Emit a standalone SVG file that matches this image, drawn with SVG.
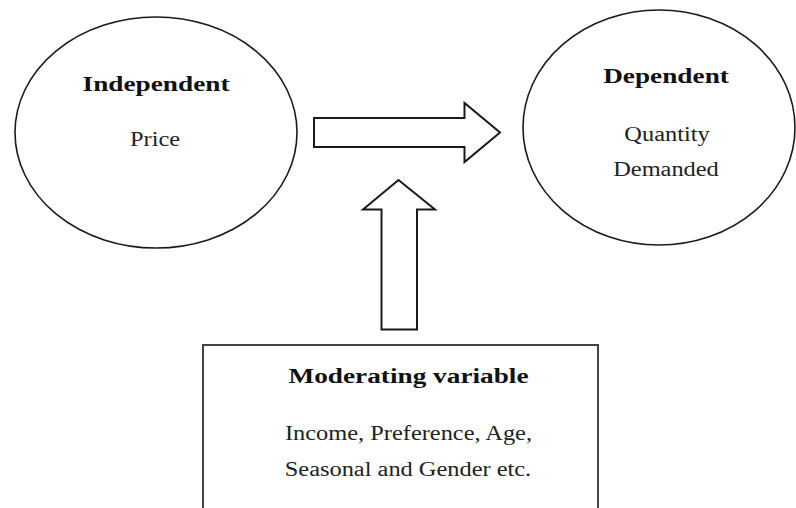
<svg xmlns="http://www.w3.org/2000/svg" width="796" height="508" viewBox="0 0 796 508">
<style>
.bg{fill:#ffffff}
.node{fill:#ffffff;stroke:#1a1a1a;stroke-width:1.6}
.box{fill:#ffffff;stroke:#444444;stroke-width:2}
.arrow{fill:#ffffff;stroke:#1a1a1a;stroke-width:2;stroke-linejoin:miter}
.t{font-family:"Liberation Serif","Times New Roman",serif;fill:#222222;text-anchor:middle;font-size:20.5px}
.b{font-family:"Liberation Serif","Times New Roman",serif;fill:#111111;text-anchor:middle;font-weight:bold;font-size:22px}
</style>
<rect class="bg" x="0" y="0" width="796" height="508"/>
<g id="independent">
<ellipse class="node" cx="156" cy="132.5" rx="141" ry="115.5"/>
<text class="b" transform="translate(156,91) scale(1.24,1)">Independent</text>
<text class="t" transform="translate(155,146) scale(1.19,1)">Price</text>
</g>
<g id="dependent">
<ellipse class="node" cx="659" cy="127.5" rx="136" ry="117.5"/>
<text class="b" transform="translate(666,83) scale(1.24,1)">Dependent</text>
<text class="t" transform="translate(667,141) scale(1.19,1)">Quantity</text>
<text class="t" transform="translate(666,176) scale(1.19,1)">Demanded</text>
</g>
<g id="moderating">
<rect class="box" x="203" y="345" width="395" height="180"/>
<text class="b" transform="translate(408.5,383) scale(1.24,1)">Moderating variable</text>
<text class="t" transform="translate(408.5,440) scale(1.19,1)">Income, Preference, Age,</text>
<text class="t" transform="translate(408,476) scale(1.19,1)">Seasonal and Gender etc.</text>
</g>
<g id="connectors">
<polygon class="arrow" points="314,118 464.5,118 464.5,103 500,132.5 464.5,162 464.5,147 314,147"/>
<polygon class="arrow" points="381.5,329.5 381.5,209.5 363,209.5 398.5,180 435,209.5 417,209.5 417,329.5"/>
</g>
</svg>
